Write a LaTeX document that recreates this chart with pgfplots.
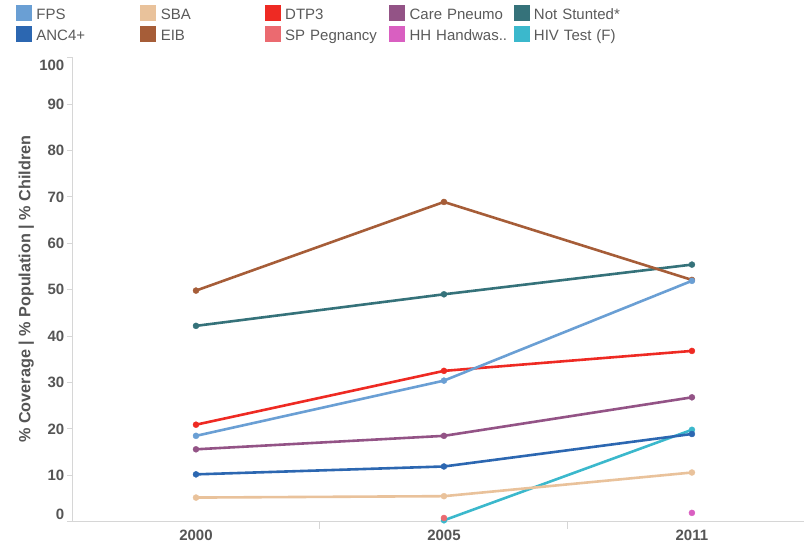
\documentclass[border=0pt]{standalone}
\usepackage{pgfplots}
\pgfplotsset{compat=1.18}
\usepackage{fontspec}
\setmainfont{Liberation Sans}
\definecolor{cFPS}{HTML}{6A9FD4}
\definecolor{cANC}{HTML}{2C67B1}
\definecolor{cSBA}{HTML}{E9C29B}
\definecolor{cEIB}{HTML}{A65D38}
\definecolor{cDTP}{HTML}{EE2A23}
\definecolor{cSP}{HTML}{EB6A70}
\definecolor{cCP}{HTML}{935386}
\definecolor{cHH}{HTML}{D95FC1}
\definecolor{cNS}{HTML}{35727A}
\definecolor{cHIV}{HTML}{3BB8CC}
\definecolor{axisgray}{HTML}{D6D6D6}
\definecolor{labelgray}{HTML}{555555}
\definecolor{legendgray}{HTML}{5A5A5A}
\pgfplotsset{
  ser/.style={color=#1, line width=2.6bp, mark=*, mark size=3bp, mark options={line width=0.4bp}, forget plot},
  sw/.style={legend image code/.code={\fill[#1] (0bp,-4.5bp) rectangle (15bp,10.5bp);}}
}
\begin{document}
\begin{tikzpicture}
\path[use as bounding box] (0,0) rectangle (804bp,546bp);
\begin{axis}[
  at={(72bp,24.3bp)}, anchor=south west,
  scale only axis, width=732bp, height=465bp,
  xmin=-0.5, xmax=2.452, ymin=0, ymax=100.2,
  clip=false,
  axis x line=bottom, axis y line=left,
  axis line style={-, draw=axisgray, line width=1bp},
  tick align=outside,
  xtick={0,1,2}, xticklabels={2000,2005,2011},
  minor xtick={0.5,1.5},
  major x tick style={draw=none},
  minor x tick style={draw=axisgray, line width=1bp},
  minor tick length=7bp,
  major tick length=4.5bp,
  ytick={0,10,20,30,40,50,60,70,80,90,100},
  yticklabels={\raisebox{7.7bp}[10.7bp][0pt]{0},10,20,30,40,50,60,70,80,90,\raisebox{-8bp}[10.7bp][0pt]{100}},
  y tick style={draw=axisgray, line width=1bp},
  xticklabel style={font=\bfseries\fontsize{15bp}{18bp}\selectfont, text=labelgray, anchor=north, inner sep=0pt, yshift=-4bp},
  yticklabel style={font=\bfseries\fontsize{15bp}{18bp}\selectfont, text=labelgray, anchor=east, inner sep=0pt, xshift=-3bp},
  ylabel={\% Coverage | \% Population | \% Children},
  ylabel style={at={(axis description cs:-0.0625,0.5)}, anchor=center, font=\bfseries\fontsize{16.2bp}{19bp}\selectfont, text=labelgray},
  legend columns=5, legend cell align=left,
  legend style={at={(axis description cs:-0.0765,1.1107)}, anchor=north west, draw=none, fill=none, inner sep=0pt, outer sep=0pt,
    font=\fontsize{15bp}{18bp}\selectfont, text=legendgray,
    nodes={inner sep=0pt, text width=104bp, text height=11bp, text depth=4bp},
    row sep=3bp,
    /tikz/every odd column/.append style={column sep=5bp},
    /tikz/every even column/.append style={column sep=0bp}},
]
\addlegendimage{sw=cFPS}
\addlegendimage{sw=cSBA}
\addlegendimage{sw=cDTP}
\addlegendimage{sw=cCP}
\addlegendimage{sw=cNS}
\addlegendimage{sw=cANC}
\addlegendimage{sw=cEIB}
\addlegendimage{sw=cSP}
\addlegendimage{sw=cHH}
\addlegendimage{sw=cHIV}
\legend{FPS,SBA,DTP3,Care Pneumo,Not Stunted*,ANC4+,EIB,SP Pegnancy,HH Handwas..,HIV Test (F)}
\addplot[ser=cNS] coordinates {(0,42.2) (1,49.0) (2,55.4)};
\addplot[ser=cHIV] coordinates {(1,0.3) (2,19.8)};
\addplot[ser=cHH] coordinates {(2,1.9)};
\addplot[ser=cCP] coordinates {(0,15.6) (1,18.5) (2,26.8)};
\addplot[ser=cSP] coordinates {(1,0.8)};
\addplot[ser=cDTP] coordinates {(0,20.9) (1,32.5) (2,36.8)};
\addplot[ser=cEIB] coordinates {(0,49.8) (1,68.9) (2,52.1)};
\addplot[ser=cSBA] coordinates {(0,5.2) (1,5.5) (2,10.6)};
\addplot[ser=cANC] coordinates {(0,10.2) (1,11.9) (2,18.9)};
\addplot[ser=cFPS] coordinates {(0,18.5) (1,30.4) (2,51.9)};
\end{axis}
\end{tikzpicture}
\end{document}
